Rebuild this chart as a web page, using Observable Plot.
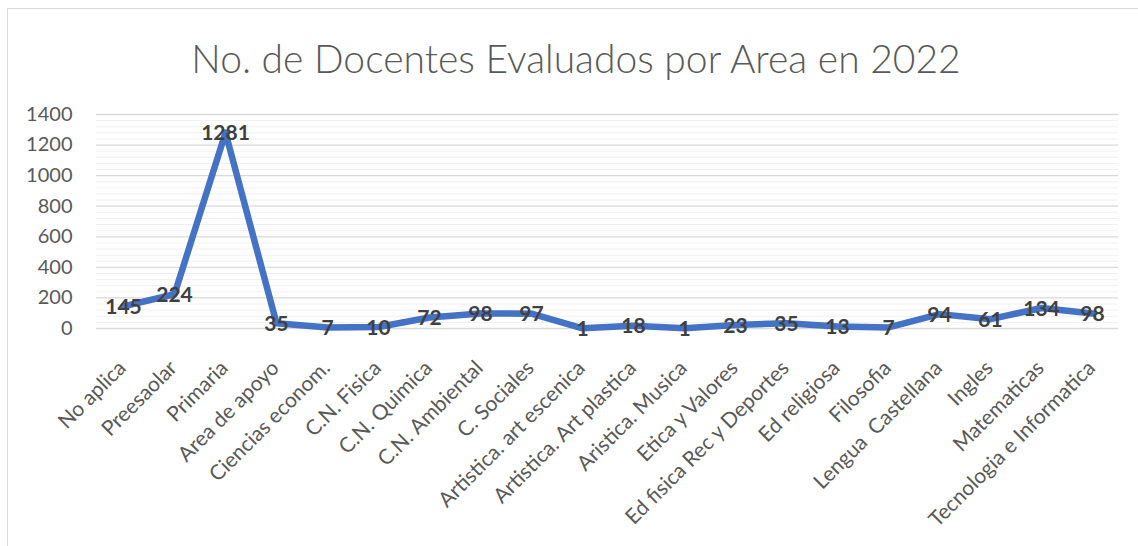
<!DOCTYPE html>
<html>
<head>
<meta charset="utf-8">
<script src="https://cdn.jsdelivr.net/npm/d3@7"></script>
<script src="https://cdn.jsdelivr.net/npm/@observablehq/plot@0.6"></script>
<style>
  html, body { margin: 0; padding: 0; background: #fff; width: 1138px; height: 546px; overflow: hidden; }
  #frame { position: absolute; left: 7px; top: 8px; width: 1160px; height: 560px; border: 1px solid #d9d9d9; background: #fff; }
  #title { position: absolute; left: 6px; top: 0; width: 1124px; height: 90px; text-align: center; font-family: Lato, "Open Sans", sans-serif; font-weight: 300; font-size: 39px; color: #595959; }
  #title span { position: absolute; left: 0; right: 0; top: 29px; line-height: 40px; }
  #chart { position: absolute; left: 0; top: 90px; }
  #chart svg { display: block; }
</style>
</head>
<body>
<div id="frame">
  <div id="title"><span>No. de Docentes Evaluados por Area en 2022</span></div>
  <div id="chart"></div>
</div>
<script>
const categories = ["No aplica", "Preesaolar", "Primaria", "Area de apoyo", "Ciencias econom.", "C.N. Fisica", "C.N. Quimica", "C.N. Ambiental", "C. Sociales", "Artistica. art escenica", "Artistica. Art plastica", "Aristica. Musica", "Etica y Valores", "Ed fisica Rec y Deportes", "Ed religiosa", "Filosofia", "Lengua  Castellana", "Ingles", "Matematicas", "Tecnologia e Informatica"];
const values = [145, 224, 1281, 35, 7, 10, 72, 98, 97, 1, 18, 1, 23, 35, 13, 7, 94, 61, 134, 98];
const majorTicks = [0, 200, 400, 600, 800, 1000, 1200, 1400];
const minorTicks = d3.range(0, 1401, 40).filter(v => v % 200 !== 0);

const data = categories.map((c, i) => ({category: c, value: values[i]}));

const chart = Plot.plot({
  width: 1124,
  height: 456,
  marginLeft: 88,
  marginRight: 14,
  marginTop: 15,
  marginBottom: 227,
  style: {fontFamily: "Lato, 'Open Sans', sans-serif", color: "#595959", background: "#fff", overflow: "visible"},
  x: {type: "point", domain: categories, padding: 0.5, axis: null},
  y: {domain: [0, 1400]},
  marks: [
    Plot.ruleY(minorTicks, {stroke: "#f0f0f0", strokeWidth: 1}),
    Plot.ruleY(majorTicks, {stroke: "#d9d9d9", strokeWidth: 1.3}),
    Plot.axisY(majorTicks, {tickSize: 0, tickPadding: 24, fontSize: 20, fill: "#595959", label: null, tickFormat: d => String(d)}),
    Plot.text(categories, {x: d => d, frameAnchor: "bottom", text: d => d, rotate: -45, textAnchor: "end", lineAnchor: "middle", fontSize: 21, fill: "#595959", dx: -1, dy: 36}),
    Plot.line(data, {x: "category", y: "value", stroke: "#4472C4", strokeWidth: 6.5, strokeLinejoin: "round", strokeLinecap: "round"}),
    Plot.text(data, {x: "category", y: "value", text: d => String(d.value), fontSize: 21, fontWeight: "bold", fill: "#404040", dy: 1})
  ]
});
document.getElementById("chart").appendChild(chart);
</script>
</body>
</html>
